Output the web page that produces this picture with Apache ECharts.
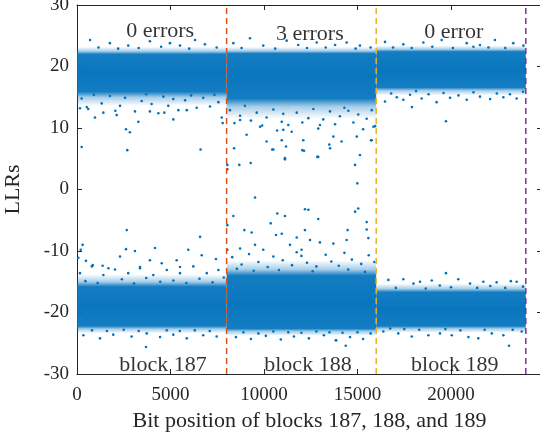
<!DOCTYPE html>
<html>
<head>
<meta charset="utf-8">
<script src="https://cdn.jsdelivr.net/npm/echarts@6/dist/echarts.min.js"></script>
<style>html,body{margin:0;padding:0;background:#fff;}#c{width:540px;height:435px;}</style>
</head>
<body>
<div id="c"></div>
<script>
// ---------- data ----------
const blockEdges = [8000, 16000, 24000];
const edgeColors = ['#D95319', '#EDB120', '#7E2F8E'];
const xTicks = [0, 5000, 10000, 15000, 20000];
const yTicks = [-30, -20, -10, 0, 10, 20, 30];
const errorLabels = [[4450, 25.8, '0 errors'], [12450, 25.2, '3 errors'], [20150, 25.5, '0 error']];
const blockLabels = [[4600, -28.6, 'block 187'], [12350, -28.6, 'block 188'], [20200, -28.6, 'block 189']];

// dense LLR bands per block: [xStart, xEnd, outerLow, coreLow, coreHigh, outerHigh]
const upperBands = [
  [0, 8000, 13.6, 15.9, 22.0, 23.2],
  [8000, 16000, 11.5, 14.8, 22.1, 23.2],
  [16000, 24000, 15.3, 16.6, 22.4, 23.4]
];
const lowerBands = [
  [0, 8000, -23.4, -22.2, -15.8, -13.8],
  [8000, 16000, -23.8, -22.6, -14.0, -11.5],
  [16000, 24000, -23.3, -22.2, -16.7, -15.3]
];

// sparse points outside the dense bands [bit position, LLR]
const upperFringe = [
  [250,14.8],[600,13.1],[900,15.4],[1320,14.0],[1760,15.2],[2050,12.8],[2300,13.6],[2570,14.9],[3100,12.7],[3460,14.4],
  [3700,15.5],[3990,13.9],[4350,12.4],[4620,15.1],[4880,13.6],[5150,14.7],[5420,12.9],[5780,14.5],[6100,15.3],[6400,13.3],
  [6750,14.9],[7110,13.5],[7350,15.4],[7560,14.2],
  [700,24.3],[1150,23.1],[1760,23.8],[2200,22.9],[2740,23.4],[3300,23.0],[3900,24.1],[4500,23.2],[4970,23.8],[5510,23.4],
  [6000,22.9],[6310,24.3],[6840,23.6],[7470,23.1],
  [8360,23.8],[8800,23.0],[9250,24.6],[9960,23.4],[10600,22.9],[11210,24.2],[11830,23.5],[12300,23.0],[12820,23.9],
  [13300,23.1],[13800,23.5],[14420,23.9],[14900,22.9],[15130,23.4],[15700,23.1],
  [8180,12.9],[8420,10.8],[8720,12.0],[8980,13.6],[9300,11.2],[9610,12.5],[9900,10.4],[10140,11.7],[10500,13.0],[10700,9.6],
  [10950,11.0],[11030,12.3],[11300,10.5],[11750,12.5],[12050,10.9],[12370,11.6],[12640,13.1],[12900,9.9],[13170,11.4],
  [13530,12.7],[13800,10.6],[14060,11.9],[14300,13.3],[14510,12.8],[14780,10.9],[15040,12.2],[15300,9.8],[15490,11.5],
  [15760,12.9],[15940,10.3],
  [16470,14.3],[16800,15.6],[17100,15.0],[17450,14.6],[17810,15.4],[18130,16.0],[18430,14.8],[18800,15.5],[19230,14.2],
  [19600,15.7],[19950,14.9],[20400,15.3],[20840,14.6],[21200,15.8],[21550,15.1],[22090,14.7],[22450,15.6],[22800,15.0],
  [23150,15.5],[23510,14.8],[23850,15.9],
  [16470,24.0],[16900,23.1],[17450,23.6],[17900,23.0],[18520,23.9],[19000,23.2],[19500,24.3],[20100,23.0],[20840,23.8],
  [21200,23.2],[21550,23.5],[22000,23.1],[22350,24.3],[22900,23.0],[23330,23.8],[23870,23.4]
];
const upperOutliers = [
  [250,6.9],[2690,6.4],[6610,6.5],[2830,9.3],[2620,9.8],[960,11.7],[2120,12.1],[3280,11.0],[5150,11.4],[3900,12.7],
  [4670,12.5],[5870,12.9],[7740,11.7],[7790,10.8],[1410,12.5],[160,13.2],[520,13.4],
  [8040,4.0],[8680,4.0],[9290,4.3],[8400,6.7],[10500,6.5],[11120,5.1],[11180,7.0],[12050,6.4],[12900,5.3],[13530,6.7],
  [14870,4.0],[15130,5.6],[14960,8.6],[11030,9.7],[10950,8.0],[9790,10.2],[9070,8.9],[10140,7.8],[12100,8.0],[13710,8.6],
  [14150,7.8],[15760,8.0],[15850,10.2],[12990,10.5],[11480,9.4],[8720,11.3],[8040,3.3],[12850,5.3],[11120,4.9],
  [12140,6.3],[13490,7.3],[10440,6.5],[15720,8.0],
  [17910,13.4],[19730,11.1]
];
const lowerFringe = [
  [160,-13.6],[450,-14.9],[790,-12.5],[1100,-15.2],[1410,-13.9],[2030,-13.0],[2400,-14.6],[2740,-13.6],[3050,-15.3],
  [3370,-12.8],[3700,-14.4],[4080,-13.9],[4450,-15.0],[4800,-13.1],[5150,-14.8],[5510,-13.6],[5850,-15.2],[6220,-12.5],
  [6550,-14.5],[6940,-13.6],[7250,-15.1],[7560,-13.1],[7850,-14.3],
  [340,-23.7],[800,-22.9],[1230,-24.2],[1600,-23.0],[1940,-23.6],[2500,-22.8],[2920,-23.9],[3300,-23.0],[3730,-23.4],
  [4440,-24.0],[4800,-22.9],[5150,-23.6],[5500,-23.0],[5870,-24.2],[6300,-22.9],[6750,-23.7],[7100,-23.0],[7470,-23.9],
  [8500,-24.0],[8900,-23.2],[9300,-24.3],[9700,-23.4],[10100,-23.8],[10500,-23.1],[10900,-24.4],[11300,-23.2],[11600,-23.9],
  [12000,-23.3],[12400,-24.2],[12800,-23.1],[13200,-23.7],[13500,-23.2],[13850,-24.5],[14200,-23.3],[14600,-24.0],
  [15000,-23.2],[15300,-24.3],[15700,-23.4],
  [8300,-11.0],[8550,-12.9],[8800,-12.2],[9200,-10.5],[9450,-13.2],[9700,-11.8],[10200,-12.6],[10500,-10.9],[10800,-13.1],
  [11000,-11.5],[11500,-12.3],[11750,-10.2],[12000,-10.8],[12300,-11.9],[12600,-13.3],[12800,-12.5],[13300,-10.6],
  [13600,-11.7],[14000,-12.4],[14300,-10.3],[14500,-13.0],[14700,-11.4],[15200,-12.1],[15400,-13.4],[15600,-10.7],[15900,-11.8],
  [16650,-14.7],[17050,-16.0],[17450,-14.6],[17990,-15.3],[18340,-15.0],[18650,-16.1],[18970,-14.8],[19400,-15.6],
  [20000,-15.9],[20390,-14.6],[21020,-15.3],[21400,-16.0],[21730,-15.0],[22100,-15.7],[22440,-15.1],[22900,-16.0],
  [23200,-14.9],[23510,-15.0],[23850,-15.8],
  [16380,-23.1],[16750,-22.6],[17180,-23.4],[17500,-22.7],[17900,-23.9],[18300,-22.8],[18790,-23.7],[19410,-23.4],
  [19700,-22.7],[20040,-23.7],[20500,-22.9],[20930,-24.0],[21460,-24.2],[21800,-22.8],[22180,-23.4],[22800,-23.7],
  [23300,-22.8],[23780,-23.1]
];
const lowerOutliers = [
  [300,-9.0],[200,-9.8],[70,-11.1],[480,-11.6],[2660,-6.6],[2620,-9.7],[2300,-10.9],[3100,-10.0],[4170,-9.5],[3900,-11.5],
  [5950,-9.8],[6580,-7.7],[6670,-10.7],[7430,-11.3],[840,-12.3],[1370,-12.4],[1680,-12.8],[5330,-11.5],[5510,-12.6],[4530,-12.0],[3370,-12.6],
  [14990,1.0],[9520,-1.3],[8360,-4.3],[10710,-3.9],[11120,-4.3],[12190,-3.2],[12370,-3.3],[12900,-4.8],[14870,-3.6],[15040,-3.1],
  [10360,-5.5],[15490,-5.3],[8950,-6.6],[9340,-7.0],[12190,-6.6],[14470,-6.6],[15490,-6.5],[10640,-7.4],[10950,-7.2],[11750,-7.8],
  [12460,-8.2],[12990,-8.6],[13710,-8.8],[8040,-5.8],[8040,-9.8],[8720,-9.6],[9960,-9.8],[12010,-9.8],[14420,-8.2],[15580,-7.9],
  [9520,-9.0],[11390,-9.0],
  [19730,-13.6],[23100,-25.4],[3690,-25.6],[14370,-25.4],[13850,-24.5]
];

// ---------- chart ----------
const BLUE = '#0072BD';
const FONT = "'Liberation Serif', 'DejaVu Serif', serif";
const AXC = '#262626';

function bandSeries(bands) {
  return {
    type: 'custom',
    data: bands,
    encode: { x: [0, 1], y: [2, 3, 4, 5] },
    silent: true,
    z: 2,
    renderItem: function (params, api) {
      const x0 = api.value(0), x1 = api.value(1);
      const oLo = api.value(2), cLo = api.value(3), cHi = api.value(4), oHi = api.value(5);
      const p0 = api.coord([x0, oHi]);
      const p1 = api.coord([x1, oLo]);
      const r = oHi - oLo;
      const s1 = (oHi - cHi) / r, s2 = (oHi - cLo) / r;
      return {
        type: 'rect',
        shape: { x: p0[0], y: p0[1], width: p1[0] - p0[0], height: p1[1] - p0[1] },
        style: {
          fill: new echarts.graphic.LinearGradient(0, 0, 0, 1, [
            { offset: 0, color: 'rgba(0,114,189,0.0)' },
            { offset: s1 * 0.6, color: 'rgba(0,114,189,0.35)' },
            { offset: s1, color: 'rgba(0,114,189,0.92)' },
            { offset: (s1 + s2) / 2, color: 'rgba(0,114,189,0.97)' },
            { offset: s2, color: 'rgba(0,114,189,0.92)' },
            { offset: s2 + (1 - s2) * 0.4, color: 'rgba(0,114,189,0.35)' },
            { offset: 1, color: 'rgba(0,114,189,0.0)' }
          ])
        }
      };
    }
  };
}

function pts(data) {
  return { type: 'scatter', data: data, symbolSize: 2.6, itemStyle: { color: BLUE, opacity: 1 }, silent: true, z: 3 };
}

function textSeries(items) {
  return {
    type: 'scatter', data: items, symbolSize: 0, silent: true, z: 6,
    label: { show: true, position: 'inside', formatter: p => p.data[2], fontFamily: FONT, fontSize: 22, color: '#000' }
  };
}

const edgeSeries = blockEdges.map((x, i) => ({
  type: 'line', data: [[x, -30], [x, 30]], symbol: 'none', silent: true, z: 5,
  lineStyle: { color: edgeColors[i], width: 1.5, type: [6, 4] }
}));

const axisCommon = {
  axisLine: { show: true, onZero: false, lineStyle: { color: AXC, width: 1 } },
  axisTick: { show: true, inside: true, length: 5, lineStyle: { color: AXC } },
  splitLine: { show: false }
};

const chart = echarts.init(document.getElementById('c'), null, { renderer: 'canvas' });
chart.setOption({
  animation: false,
  backgroundColor: '#fff',
  grid: { left: 77, top: 5, width: 465, height: 369, containLabel: false, outerBoundsMode: 'none' },
  xAxis: [Object.assign({
    type: 'value', min: 0, max: 24866, interval: 5000, position: 'bottom',
    name: 'Bit position of blocks 187, 188, and 189', nameLocation: 'middle', nameGap: 33,
    nameTextStyle: { fontFamily: FONT, fontSize: 22, color: AXC },
    axisLabel: { fontFamily: FONT, fontSize: 19, color: AXC, margin: 12, showMaxLabel: false,
      formatter: v => (xTicks.indexOf(v) >= 0 ? String(v) : '') }
  }, axisCommon), Object.assign({
    type: 'value', min: 0, max: 24866, interval: 5000, position: 'top',
    axisLabel: { show: false }
  }, axisCommon)],
  yAxis: [Object.assign({
    type: 'value', min: -30, max: 30, interval: 10, position: 'left',
    name: 'LLRs', nameLocation: 'middle', nameGap: 53,
    nameTextStyle: { fontFamily: FONT, fontSize: 22, color: AXC },
    axisLabel: { fontFamily: FONT, fontSize: 19, color: AXC, margin: 8,
      formatter: v => (yTicks.indexOf(v) >= 0 ? String(v) : '') }
  }, axisCommon), Object.assign({
    type: 'value', min: -30, max: 30, interval: 10, position: 'right',
    axisLabel: { show: false }
  }, axisCommon)],
  series: [
    bandSeries(upperBands),
    bandSeries(lowerBands),
    pts(upperFringe),
    pts(lowerFringe),
    pts(upperOutliers),
    pts(lowerOutliers),
    ...edgeSeries,
    textSeries(errorLabels),
    textSeries(blockLabels)
  ]
});
</script>
</body>
</html>
